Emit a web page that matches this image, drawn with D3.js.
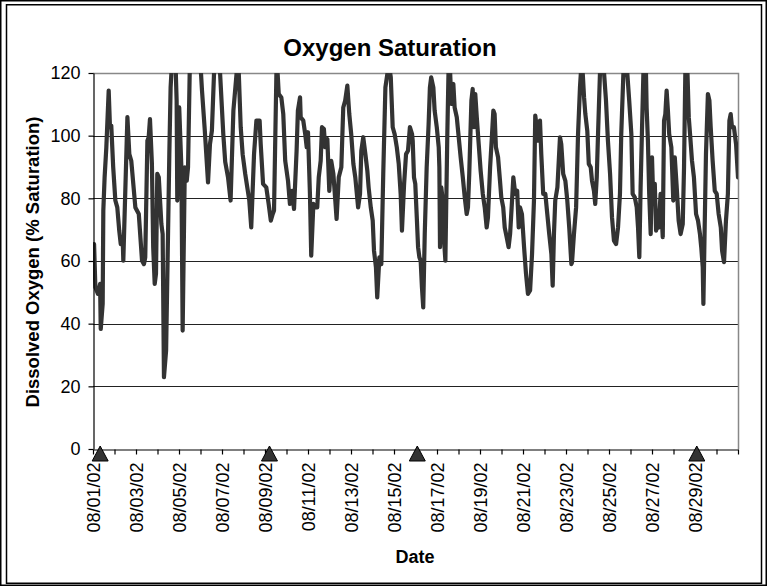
<!DOCTYPE html>
<html><head><meta charset="utf-8">
<script src="https://cdn.jsdelivr.net/npm/d3@7"></script>
<style>html,body{margin:0;padding:0;background:#fff;} svg{display:block;font-family:"Liberation Sans",Arial,sans-serif;}</style>
</head><body><svg id="chart" width="767" height="586"></svg>
<script>
// elapsed time since 08/01/02 00:00, in days
const elapsedDays = [0.05,0.11,0.23,0.33,0.36,0.45,0.48,0.54,0.62,0.73,0.79,0.85,0.94,1.04,1.13,1.22,1.29,1.38,1.41,1.60,1.69,1.78,1.97,2.13,2.28,2.37,2.43,2.53,2.59,2.65,2.74,2.80,2.87,2.93,2.99,3.06,3.12,3.18,3.24,3.30,3.40,3.49,3.55,3.61,3.71,3.83,3.89,3.92,4.01,4.11,4.17,4.27,4.36,4.42,4.51,4.65,4.98,5.07,5.20,5.35,5.44,5.53,5.63,5.75,5.91,6.06,6.15,6.28,6.40,6.53,6.68,6.73,6.78,6.87,6.96,7.08,7.27,7.36,7.49,7.60,7.75,7.80,7.91,8.06,8.17,8.27,8.36,8.42,8.53,8.57,8.64,8.76,8.85,8.94,9.07,9.16,9.26,9.35,9.47,9.53,9.63,9.66,9.78,9.87,9.94,10.00,10.09,10.15,10.25,10.34,10.43,10.50,10.59,10.65,10.74,10.80,10.90,10.99,11.08,11.18,11.27,11.33,11.43,11.55,11.64,11.73,11.83,11.92,12.01,12.11,12.20,12.33,12.42,12.48,12.57,12.67,12.76,12.82,12.92,13.01,13.07,13.16,13.22,13.32,13.41,13.50,13.60,13.69,13.78,13.85,13.94,14.03,14.13,14.22,14.31,14.37,14.47,14.56,14.65,14.74,14.84,14.87,14.93,14.99,15.06,15.12,15.18,15.24,15.30,15.36,15.43,15.52,15.61,15.67,15.73,15.83,15.89,15.99,16.08,16.11,16.14,16.20,16.27,16.33,16.39,16.48,16.54,16.60,16.67,16.76,16.82,16.92,17.01,17.10,17.20,17.29,17.38,17.44,17.50,17.60,17.66,17.72,17.78,17.85,17.94,18.03,18.13,18.22,18.31,18.37,18.47,18.56,18.62,18.68,18.74,18.84,18.93,18.99,19.08,19.15,19.24,19.33,19.40,19.49,19.55,19.64,19.73,19.80,19.86,19.95,20.05,20.14,20.23,20.33,20.42,20.51,20.57,20.64,20.70,20.79,20.85,20.94,21.04,21.13,21.22,21.32,21.38,21.44,21.50,21.60,21.72,21.78,21.87,21.97,22.06,22.15,22.25,22.28,22.37,22.47,22.56,22.65,22.71,22.78,22.84,22.90,22.99,23.06,23.15,23.21,23.30,23.36,23.43,23.49,23.58,23.64,23.77,23.86,23.95,24.05,24.14,24.23,24.33,24.42,24.51,24.57,24.67,24.76,24.85,24.94,25.04,25.10,25.20,25.29,25.35,25.41,25.47,25.53,25.60,25.66,25.72,25.75,25.81,25.87,25.94,26.00,26.06,26.13,26.19,26.25,26.31,26.40,26.50,26.56,26.62,26.68,26.74,26.80,26.90,26.99,27.06,27.15,27.24,27.33,27.43,27.49,27.55,27.60,27.65,27.71,27.77,27.86,27.95,28.05,28.14,28.23,28.29,28.36,28.39,28.45,28.51,28.60,28.67,28.73,28.82,28.92,29.01,29.10,29.20,29.26,29.35,29.44,29.53,29.60,29.66,29.72,29.81,29.91,30.00];
const oxygenSaturation = [65.4,51.6,49.5,52.7,38.3,46.3,76.1,86.7,96.3,114.4,102.7,103.2,89.9,79.3,77.1,69.7,65.4,67.6,60.1,105.9,94.1,92.0,77.1,75.0,60.1,59.0,61.2,98.4,99.5,105.3,91.0,64.4,52.7,55.9,87.8,86.7,79.3,71.8,68.6,22.9,31.4,68.6,94.1,115.4,128,125,111.2,79.3,109,89.9,37.8,89.9,85.6,89.9,125,135,125,114.4,101.6,85.1,97.3,101.6,120,130,120,100.5,91.6,86.7,79.3,108,120,124,120,102.7,94.1,87.8,79.3,70.7,94.1,104.8,104.8,97.3,84.6,83.5,78.2,72.9,75.0,76.1,119.7,122,113.3,112.2,106.9,92.0,85.6,78.2,82.4,76.6,95.2,108.0,112.2,105.9,104.8,100.5,96.3,101.1,81.4,61.7,78.2,77.1,77.1,86.7,92.0,102.7,102.1,96.3,98.9,82.4,92.0,87.8,79.3,73.4,86.7,89.9,109.0,111.2,116.0,106.9,100.5,91.0,86.7,77.1,81.4,95.2,99.5,94.1,88.8,83.5,77.1,72.9,63.3,58.0,48.4,61.2,59.0,87.8,115.4,119.7,122,118.6,102.7,100.5,96.3,91.0,81.4,69.7,84.6,94.1,95.2,102.7,100.5,98.4,86.7,84.6,73.9,64.4,61.2,60.1,51.6,45.2,68.6,89.9,103.7,115.4,118.6,115.4,108.0,102.7,96.3,89.9,64.4,83.5,79.3,66.5,60.1,100.5,122,122,110.1,116.5,109.0,105.9,99.5,93.1,86.7,80.3,75.0,77.1,87.8,111.2,114.9,102.7,113.3,105.9,97.3,88.8,81.4,77.1,70.7,73.9,89.9,100.5,108.0,106.9,96.3,93.1,85.6,80.3,77.1,70.7,67.6,64.4,68.6,79.3,86.7,81.4,82.4,70.7,77.1,75.0,64.4,55.9,49.5,50.6,62.2,79.3,106.4,102.7,98.4,104.8,94.1,81.4,81.4,75.0,68.6,62.2,52.1,68.6,79.3,83.5,99.5,97.3,87.8,85.6,79.3,70.7,59.0,59.6,68.6,77.1,100.5,115.4,122,119.7,112.2,106.9,101.6,91.0,89.9,85.6,82.4,78.2,86.7,100.5,120,125,120,111.2,98.4,87.8,73.9,66.5,65.4,70.7,81.4,100.5,120,126,120,111.2,100.5,81.4,80.3,77.1,70.7,61.2,83.5,100.5,120,128,120,109.0,98.4,81.4,68.6,93.1,79.3,84.6,69.7,71.8,70.7,81.4,67.6,104.8,106.9,114.4,108.0,100.5,96.3,79.3,93.1,83.5,72.9,68.6,71.8,89.9,120,124,120,105.9,100.5,92.0,86.7,75.0,72.9,68.6,64.4,58.0,46.3,70.7,94.1,113.3,111.2,102.7,92.0,82.4,81.4,75.0,70.7,63.3,59.6,72.9,81.4,104.8,106.9,102.7,102.7,97.3,86.7];
const markerDates = ["2002-08-01T08:00","2002-08-09T05:00","2002-08-16T02:00","2002-08-29T02:00"];
const yTicks = [0,20,40,60,80,100,120];
const chartTitle = "Oxygen Saturation";
const yTitle = "Dissolved Oxygen (% Saturation)";
const xTitle = "Date";

const startDate = new Date(2002,7,1);
const endDate = new Date(2002,7,31);
const data = elapsedDays.map((d,i)=>({date:new Date(startDate.getTime()+d*86400000), v:oxygenSaturation[i]}));

const svg = d3.select("#chart");
const W=767,H=586;
const M={left:93,right:738,top:73,bottom:449};
const x = d3.scaleTime().domain([startDate,endDate]).range([M.left,M.right]);
const y = d3.scaleLinear().domain([0,120]).range([M.bottom,M.top]);

// frame
svg.append("rect").attr("x",0.75).attr("y",0.75).attr("width",W-1.5).attr("height",H-1.5).attr("fill","none").attr("stroke","#000").attr("stroke-width",1.5);
svg.append("rect").attr("x",6.5).attr("y",4.75).attr("width",755).attr("height",578.5).attr("fill","none").attr("stroke","#000").attr("stroke-width",1.5);

// gridlines
svg.append("g").selectAll("line").data(yTicks.filter(t=>t>0&&t<120)).join("line")
  .attr("x1",M.left).attr("x2",M.right).attr("y1",d=>Math.round(y(d))+0.5).attr("y2",d=>Math.round(y(d))+0.5)
  .attr("stroke","#222").attr("stroke-width",1);
// plot border top/right
svg.append("path").attr("d",`M${M.left},${M.top+0.5}H${M.right+0.5}V${M.bottom}`).attr("fill","none").attr("stroke","#888").attr("stroke-width",1.5);

// clip
svg.append("clipPath").attr("id","clip").append("rect").attr("x",M.left).attr("y",M.top).attr("width",M.right-M.left).attr("height",M.bottom-M.top);
svg.append("path").datum(data).attr("clip-path","url(#clip)")
  .attr("d",d3.line().x(d=>x(d.date)).y(d=>y(d.v)))
  .attr("fill","none").attr("stroke","#333").attr("stroke-width",4.2).attr("stroke-linejoin","round").attr("stroke-linecap","round");

// y axis
const yAxis = d3.axisLeft(y).tickValues(yTicks).tickSize(5).tickPadding(8).tickSizeOuter(0);
const gy = svg.append("g").attr("transform",`translate(${M.left+0.5},0)`).call(yAxis);
gy.selectAll("text").attr("font-size",18).attr("fill","#000").attr("font-family","Liberation Sans, Arial, sans-serif");
gy.selectAll("line,path").attr("stroke","#000").attr("stroke-width",1.2);

// x axis
const days = d3.timeDay.range(startDate, d3.timeDay.offset(endDate,1));
const fmt = d3.timeFormat("%m/%d/%y");
const xAxis = d3.axisBottom(x).tickValues(days).tickSize(5).tickSizeOuter(0)
  .tickFormat(d=> (d.getDate()%2===1 && d.getDate()<30) ? fmt(d) : "");
const gx = svg.append("g").attr("transform",`translate(0,${M.bottom+0.5})`).call(xAxis);
gx.selectAll("line,path").attr("stroke","#000").attr("stroke-width",1.2);
gx.selectAll("text").attr("font-size",18).attr("fill","#000").attr("font-family","Liberation Sans, Arial, sans-serif")
  .attr("transform","rotate(-90)").attr("text-anchor","end").attr("x",-13).attr("y",0).attr("dy","0.35em");

// markers
svg.append("g").selectAll("path").data(markerDates).join("path")
  .attr("d",d=>{const cx=x(new Date(d)); return `M${cx},446L${cx+8},461L${cx-8},461Z`;})
  .attr("fill","#333").attr("stroke","#000").attr("stroke-width",1);

// titles
svg.append("text").attr("x",390).attr("y",56).attr("text-anchor","middle").attr("font-size",24).attr("font-weight","bold").text(chartTitle);
svg.append("text").attr("transform","translate(39,262) rotate(-90)").attr("text-anchor","middle").attr("font-size",18.5).attr("font-weight","bold").text(yTitle);
svg.append("text").attr("x",415).attr("y",563).attr("text-anchor","middle").attr("font-size",18).attr("font-weight","bold").text(xTitle);
</script></body></html>
